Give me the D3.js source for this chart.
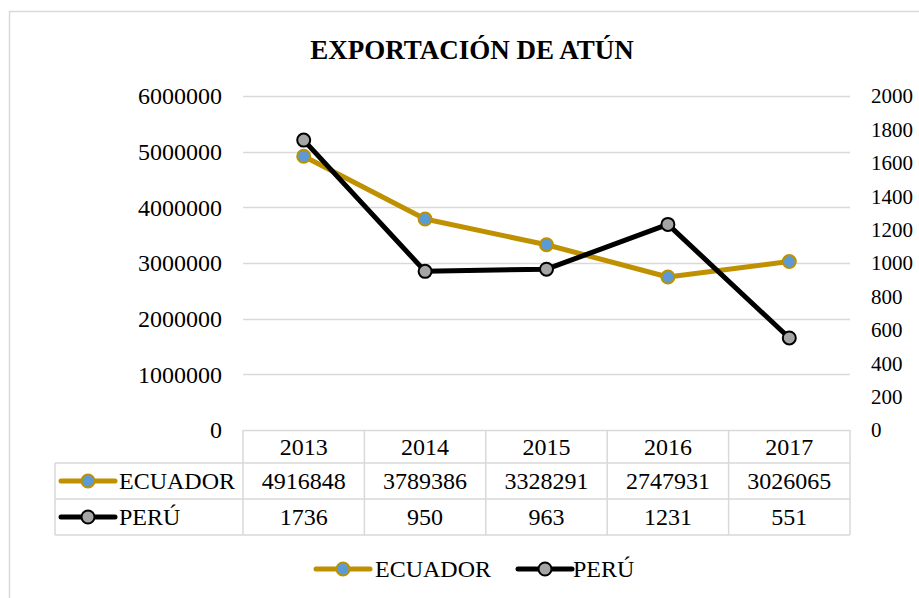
<!DOCTYPE html>
<html>
<head>
<meta charset="utf-8">
<script src="https://cdn.jsdelivr.net/npm/d3@7"></script>
<style>
  body { margin: 0; background: #fff; }
  text { font-family: "Liberation Serif", "Times New Roman", serif; fill: #000; }
</style>
</head>
<body>
<div id="chart"></div>
<script>
const years = [2013, 2014, 2015, 2016, 2017];
const ecuador = [4916848, 3789386, 3328291, 2747931, 3026065];
const peru = [1736, 950, 963, 1231, 551];
const leftTicks = [0, 1000000, 2000000, 3000000, 4000000, 5000000, 6000000];
const rightTicks = [0, 200, 400, 600, 800, 1000, 1200, 1400, 1600, 1800, 2000];
const seriesNames = ["ECUADOR", "PERÚ"];

(function() {
    const width = 919, height = 598;
    const plot = {left: 243, right: 850, top: 96, bottom: 430};
    const tableLeft = 55;
    const rowH = [33, 36, 36];
    const gold = "#BF9000", blue = "#5B9BD5", grey = "#A5A5A5", gridColor = "#d9d9d9";
    const fs = 24;

    const svg = d3.select("#chart").append("svg")
        .attr("width", width)
        .attr("height", height);

    svg.append("rect")
        .attr("x", 9.5).attr("y", 11.5)
        .attr("width", width + 20).attr("height", height + 20)
        .attr("fill", "#fff")
        .attr("stroke", gridColor)
        .attr("stroke-width", 1.5);

    svg.append("text")
        .attr("x", 472).attr("y", 59)
        .attr("text-anchor", "middle")
        .attr("font-size", "27px")
        .attr("font-weight", "bold")
        .text("EXPORTACIÓN DE ATÚN");

    const x = d3.scaleBand()
        .domain(years)
        .range([plot.left, plot.right]);

    const yL = d3.scaleLinear()
        .domain([0, 6000000])
        .range([plot.bottom, plot.top]);

    const yR = d3.scaleLinear()
        .domain([0, 2000])
        .range([plot.bottom, plot.top]);

    // gridlines
    svg.append("g")
        .selectAll("line")
        .data(leftTicks)
        .join("line")
        .attr("x1", plot.left).attr("x2", plot.right)
        .attr("y1", d => Math.round(yL(d)) + 0.5)
        .attr("y2", d => Math.round(yL(d)) + 0.5)
        .attr("stroke", gridColor)
        .attr("stroke-width", 1.5);

    // left axis labels
    svg.append("g")
        .selectAll("text")
        .data(leftTicks)
        .join("text")
        .attr("x", 222)
        .attr("y", d => yL(d))
        .attr("dy", "0.35em")
        .attr("text-anchor", "end")
        .attr("font-size", fs + "px")
        .text(d => d);

    // right axis labels
    svg.append("g")
        .selectAll("text")
        .data(rightTicks)
        .join("text")
        .attr("x", 871)
        .attr("y", d => yR(d))
        .attr("dy", "0.35em")
        .attr("font-size", "21px")
        .text(d => d);

    // data table
    const rowTop = [plot.bottom, plot.bottom + rowH[0], plot.bottom + rowH[0] + rowH[1]];
    const tableBottom = rowTop[2] + rowH[2];
    const table = svg.append("g")
        .attr("stroke", gridColor)
        .attr("stroke-width", 1.5);

    [rowTop[1], rowTop[2], tableBottom].forEach(yy => {
        table.append("line")
            .attr("x1", tableLeft).attr("x2", plot.right)
            .attr("y1", yy).attr("y2", yy);
    });
    table.append("line")
        .attr("x1", tableLeft).attr("x2", tableLeft)
        .attr("y1", rowTop[1]).attr("y2", tableBottom);
    [plot.left, ...years.map(d => x(d) + x.bandwidth())].forEach(xx => {
        table.append("line")
            .attr("x1", xx).attr("x2", xx)
            .attr("y1", plot.bottom).attr("y2", tableBottom);
    });

    const rows = [
        {values: years, y: rowTop[0] + rowH[0] / 2},
        {values: ecuador, y: rowTop[1] + rowH[1] / 2},
        {values: peru, y: rowTop[2] + rowH[2] / 2}
    ];
    rows.forEach(r => {
        svg.append("g")
            .selectAll("text")
            .data(r.values)
            .join("text")
            .attr("x", (d, i) => x(years[i]) + x.bandwidth() / 2)
            .attr("y", r.y)
            .attr("dy", "0.35em")
            .attr("text-anchor", "middle")
            .attr("font-size", fs + "px")
            .text(d => d);
    });

    const styles = [
        {line: gold, fill: blue, stroke: gold},
        {line: "#000", fill: grey, stroke: "#000"}
    ];

    function legendKey(g, cx, cy, s) {
        g.append("line")
            .attr("x1", cx - 27).attr("x2", cx + 27)
            .attr("y1", cy).attr("y2", cy)
            .attr("stroke", s.line)
            .attr("stroke-width", 5)
            .attr("stroke-linecap", "round");
        g.append("circle")
            .attr("cx", cx).attr("cy", cy).attr("r", 6.5)
            .attr("fill", s.fill)
            .attr("stroke", s.stroke)
            .attr("stroke-width", 2);
    }

    // table legend keys
    [1, 2].forEach((ri, k) => {
        const g = svg.append("g");
        legendKey(g, 88, rows[ri].y, styles[k]);
        g.append("text")
            .attr("x", 119).attr("y", rows[ri].y)
            .attr("dy", "0.35em")
            .attr("font-size", fs + "px")
            .text(seriesNames[k]);
    });

    // lines
    const lineL = d3.line()
        .x((d, i) => x(years[i]) + x.bandwidth() / 2)
        .y(d => yL(d));
    const lineR = d3.line()
        .x((d, i) => x(years[i]) + x.bandwidth() / 2)
        .y(d => yR(d));

    const series = [
        {data: ecuador, line: lineL, y: yL, s: styles[0]},
        {data: peru, line: lineR, y: yR, s: styles[1]}
    ];

    series.forEach(se => {
        svg.append("path")
            .datum(se.data)
            .attr("d", se.line)
            .attr("fill", "none")
            .attr("stroke", se.s.line)
            .attr("stroke-width", 5)
            .attr("stroke-linejoin", "round");
    });
    series.forEach(se => {
        svg.append("g")
            .selectAll("circle")
            .data(se.data)
            .join("circle")
            .attr("cx", (d, i) => x(years[i]) + x.bandwidth() / 2)
            .attr("cy", d => se.y(d))
            .attr("r", 6.5)
            .attr("fill", se.s.fill)
            .attr("stroke", se.s.stroke)
            .attr("stroke-width", 2);
    });

    // bottom legend
    const legendY = 569;
    const leg = svg.append("g");
    legendKey(leg, 343, legendY, styles[0]);
    leg.append("text").attr("x", 375).attr("y", legendY).attr("dy", "0.35em")
        .attr("font-size", fs + "px").text(seriesNames[0]);
    legendKey(leg, 545, legendY, styles[1]);
    leg.append("text").attr("x", 573).attr("y", legendY).attr("dy", "0.35em")
        .attr("font-size", fs + "px").text(seriesNames[1]);
})();
</script>
</body>
</html>
